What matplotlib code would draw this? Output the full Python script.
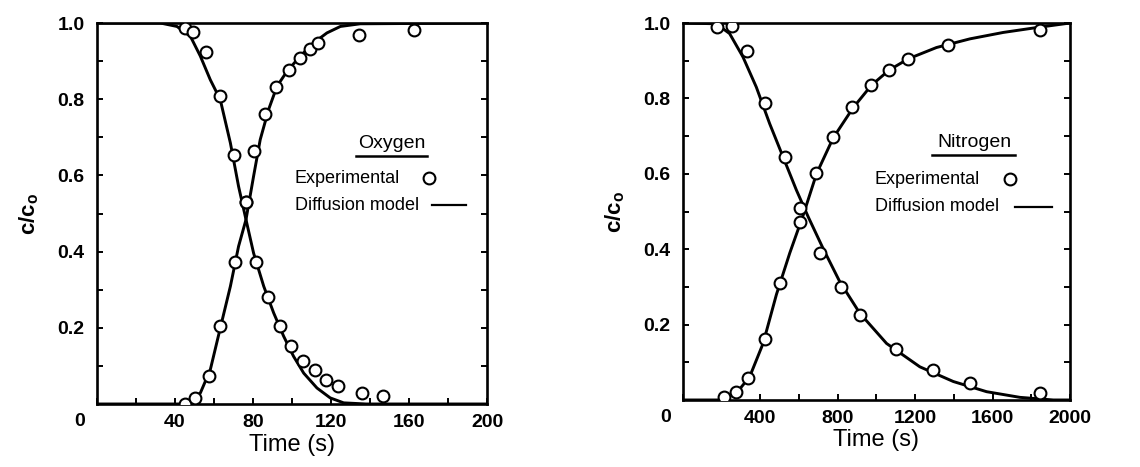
import numpy as np
import matplotlib
matplotlib.use("Agg")
import matplotlib.pyplot as plt
from matplotlib.ticker import MultipleLocator

plt.rcParams['font.family'] = ['Liberation Sans', 'DejaVu Sans']

# Oxygen breakthrough / washout (time in s, c/c0)
o2_t_down = [45.3, 49.2, 55.9, 63.2, 70.1, 76.2, 81.7, 87.5, 94.0, 99.6,
             105.4, 111.9, 117.6, 123.6, 135.9, 146.6]
o2_c_down = [0.987, 0.976, 0.923, 0.808, 0.654, 0.529, 0.374, 0.28, 0.206, 0.151,
             0.112, 0.088, 0.064, 0.046, 0.029, 0.022]
o2_t_up = [45.3, 50.0, 57.3, 63.2, 70.6, 76.4, 80.7, 86.0, 91.6, 98.4,
           104.3, 109.4, 113.3, 134.5, 162.7]
o2_c_up = [0.0, 0.017, 0.074, 0.204, 0.374, 0.529, 0.663, 0.76, 0.831, 0.877,
           0.908, 0.932, 0.947, 0.969, 0.982]

o2_model_t_down = [0, 32.5, 41.0, 47.9, 53.0, 58.1, 63.2, 68.4, 72.6, 76.4, 80.3, 85.5,
                   90.6, 95.7, 100.8, 106.0, 112.8, 119.6, 126.5, 138.0, 200]
o2_model_c_down = [1.0, 1.0, 0.991, 0.965, 0.913, 0.851, 0.799, 0.685, 0.571, 0.484, 0.396,
                   0.309, 0.239, 0.178, 0.125, 0.081, 0.042, 0.016, 0.003, 0.0, 0.0]
o2_model_t_up = [0, 45.3, 53.0, 58.1, 63.2, 68.4, 72.6, 76.4, 80.3, 83.7, 88.0, 92.3,
                 97.4, 104.2, 111.1, 117.9, 124.8, 135.0, 200]
o2_model_c_up = [0.0, 0.0, 0.029, 0.09, 0.199, 0.309, 0.414, 0.484, 0.598, 0.694, 0.773,
                 0.834, 0.873, 0.913, 0.948, 0.974, 0.991, 0.998, 1.0]

# Nitrogen
n2_t_down = [178, 253, 333, 422, 526, 603, 707, 819, 914, 1103, 1293, 1483, 1845]
n2_c_down = [0.989, 0.991, 0.926, 0.788, 0.645, 0.508, 0.389, 0.299, 0.225, 0.135,
             0.08, 0.046, 0.019]
n2_t_up = [210, 276, 336, 422, 500, 607, 686, 776, 871, 974, 1065, 1164, 1371, 1845]
n2_c_up = [0.007, 0.022, 0.057, 0.163, 0.311, 0.471, 0.601, 0.698, 0.777, 0.835,
           0.875, 0.905, 0.943, 0.981]

n2_model_t_down = [0, 172, 241, 310, 379, 448, 517, 586, 647, 724, 810, 914, 1052,
                   1224, 1397, 1569, 1741, 1914, 2000]
n2_model_c_down = [1.0, 0.998, 0.972, 0.91, 0.83, 0.733, 0.645, 0.557, 0.486, 0.402,
                   0.314, 0.23, 0.15, 0.088, 0.049, 0.022, 0.007, 0.0, 0.0]
n2_model_t_up = [0, 198, 276, 345, 414, 483, 552, 621, 690, 776, 879, 974, 1065,
                 1164, 1310, 1483, 1655, 1828, 2000]
n2_model_c_up = [0.0, 0.0, 0.018, 0.062, 0.15, 0.28, 0.39, 0.49, 0.6, 0.695, 0.775,
                 0.835, 0.875, 0.905, 0.935, 0.958, 0.975, 0.988, 1.0]

fig = plt.figure(figsize=(11.4, 4.67), dpi=100)
ax1 = fig.add_axes([0.0851, 0.1349, 0.3421, 0.8158])
ax2 = fig.add_axes([0.5991, 0.1435, 0.3395, 0.8072])

marker_kw = dict(ls='none', marker='o', ms=8.5, mfc='white', mec='black', mew=1.5, zorder=3)


def setup(ax, xmax, xmajor, xminor, gas, leg):
    ax.set_xlim(0, xmax)
    ax.set_ylim(0, 1.0)
    ax.xaxis.set_major_locator(MultipleLocator(xmajor))
    ax.xaxis.set_minor_locator(MultipleLocator(xminor))
    ax.yaxis.set_major_locator(MultipleLocator(0.2))
    ax.yaxis.set_minor_locator(MultipleLocator(0.1))
    ax.tick_params(which='both', direction='in', left=True, right=True, bottom=True,
                   top=False, length=4, width=1.4)
    ax.tick_params(axis='x', which='major', labelsize=14, pad=7)
    ax.tick_params(axis='y', which='major', labelsize=14, pad=9)
    ax.set_xticks([t for t in np.arange(xmajor, xmax + 1, xmajor)])
    ax.set_yticks([0.2, 0.4, 0.6, 0.8, 1.0])
    ax.set_yticklabels(['0.2', '0.4', '0.6', '0.8', '1.0'])
    for lbl in ax.get_xticklabels() + ax.get_yticklabels():
        lbl.set_fontweight('bold')
    for sp in ax.spines.values():
        sp.set_linewidth(1.9)
    ax.text(-0.044, -0.047, '0', transform=ax.transAxes, ha='center', va='center',
            fontsize=14, fontweight='bold')
    ax.set_xlabel('Time (s)', fontsize=17, labelpad=2)
    ax.set_ylabel('c/c$_\\mathregular{o}$', fontsize=16, fontweight='bold', labelpad=12)

    # inline key
    gx, gy, ux0, ux1, uy, tx, ey, my, cx, lx0, lx1 = leg
    ax.text(gx, gy, gas, ha='center', va='center', fontsize=14)
    ax.plot([ux0, ux1], [uy, uy], color='black', lw=1.8)
    ax.text(tx, ey, 'Experimental', ha='left', va='center', fontsize=13)
    ax.plot([cx], [ey], **marker_kw)
    ax.text(tx, my, 'Diffusion model', ha='left', va='center', fontsize=13)
    ax.plot([lx0, lx1], [my, my], color='black', lw=1.6)


ax1.plot(o2_model_t_down, o2_model_c_down, color='black', lw=2.1)
ax1.plot(o2_model_t_up, o2_model_c_up, color='black', lw=2.1)
ax1.plot(o2_t_down, o2_c_down, **marker_kw)
ax1.plot(o2_t_up, o2_c_up, **marker_kw)
setup(ax1, 200, 40, 20, 'Oxygen',
      (151, 0.685, 133, 169, 0.651, 101.5, 0.593, 0.522, 170, 172, 189))

ax2.plot(n2_model_t_down, n2_model_c_down, color='black', lw=2.1)
ax2.plot(n2_model_t_up, n2_model_c_up, color='black', lw=2.1)
ax2.plot(n2_t_down, n2_c_down, **marker_kw)
ax2.plot(n2_t_up, n2_c_up, **marker_kw)
setup(ax2, 2000, 400, 200, 'Nitrogen',
      (1504, 0.682, 1287, 1716, 0.65, 992, 0.586, 0.512, 1690, 1716, 1907))

fig.savefig('out.png', dpi=100)
